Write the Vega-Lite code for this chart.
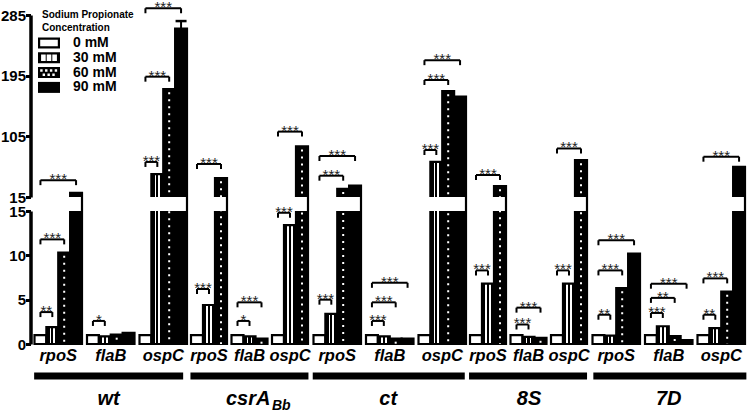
{
"$schema":"https://vega.github.io/schema/vega-lite/v6.json",
"padding":{"left":0,"top":0,"right":0,"bottom":0},
"config":{"font":"Liberation Sans","view":{"stroke":null},"text":{"font":"Liberation Sans"}},
"data":{"values":[
{"kind":"bar","strain":"wt","gene":"rpoS","conc":"0 mM","v":1},
{"kind":"bar","strain":"wt","gene":"rpoS","conc":"30 mM","v":1.9},
{"kind":"bar","strain":"wt","gene":"rpoS","conc":"60 mM","v":10.3},
{"kind":"bar","strain":"wt","gene":"rpoS","conc":"90 mM","v":21},
{"kind":"bar","strain":"wt","gene":"flaB","conc":"0 mM","v":1},
{"kind":"bar","strain":"wt","gene":"flaB","conc":"30 mM","v":0.85},
{"kind":"bar","strain":"wt","gene":"flaB","conc":"60 mM","v":1.05},
{"kind":"bar","strain":"wt","gene":"flaB","conc":"90 mM","v":1.25},
{"kind":"bar","strain":"wt","gene":"ospC","conc":"0 mM","v":1},
{"kind":"bar","strain":"wt","gene":"ospC","conc":"30 mM","v":49},
{"kind":"bar","strain":"wt","gene":"ospC","conc":"60 mM","v":175},
{"kind":"bar","strain":"wt","gene":"ospC","conc":"90 mM","v":265,"hi":276},
{"kind":"bar","strain":"csrA","gene":"rpoS","conc":"0 mM","v":1},
{"kind":"bar","strain":"csrA","gene":"rpoS","conc":"30 mM","v":4.4},
{"kind":"bar","strain":"csrA","gene":"rpoS","conc":"60 mM","v":43},
{"kind":"bar","strain":"csrA","gene":"flaB","conc":"0 mM","v":1},
{"kind":"bar","strain":"csrA","gene":"flaB","conc":"30 mM","v":0.85},
{"kind":"bar","strain":"csrA","gene":"flaB","conc":"60 mM","v":0.6},
{"kind":"bar","strain":"csrA","gene":"ospC","conc":"0 mM","v":1},
{"kind":"bar","strain":"csrA","gene":"ospC","conc":"30 mM","v":13.4},
{"kind":"bar","strain":"csrA","gene":"ospC","conc":"60 mM","v":90},
{"kind":"bar","strain":"ct","gene":"rpoS","conc":"0 mM","v":1},
{"kind":"bar","strain":"ct","gene":"rpoS","conc":"30 mM","v":3.4},
{"kind":"bar","strain":"ct","gene":"rpoS","conc":"60 mM","v":27},
{"kind":"bar","strain":"ct","gene":"rpoS","conc":"90 mM","v":32},
{"kind":"bar","strain":"ct","gene":"flaB","conc":"0 mM","v":1},
{"kind":"bar","strain":"ct","gene":"flaB","conc":"30 mM","v":0.85},
{"kind":"bar","strain":"ct","gene":"flaB","conc":"60 mM","v":0.6},
{"kind":"bar","strain":"ct","gene":"flaB","conc":"90 mM","v":0.6},
{"kind":"bar","strain":"ct","gene":"ospC","conc":"0 mM","v":1},
{"kind":"bar","strain":"ct","gene":"ospC","conc":"30 mM","v":67},
{"kind":"bar","strain":"ct","gene":"ospC","conc":"60 mM","v":172},
{"kind":"bar","strain":"ct","gene":"ospC","conc":"90 mM","v":164},
{"kind":"bar","strain":"8S","gene":"rpoS","conc":"0 mM","v":1},
{"kind":"bar","strain":"8S","gene":"rpoS","conc":"30 mM","v":6.8},
{"kind":"bar","strain":"8S","gene":"rpoS","conc":"60 mM","v":31},
{"kind":"bar","strain":"8S","gene":"flaB","conc":"0 mM","v":1},
{"kind":"bar","strain":"8S","gene":"flaB","conc":"30 mM","v":0.8},
{"kind":"bar","strain":"8S","gene":"flaB","conc":"60 mM","v":0.7},
{"kind":"bar","strain":"8S","gene":"ospC","conc":"0 mM","v":1},
{"kind":"bar","strain":"8S","gene":"ospC","conc":"30 mM","v":6.8},
{"kind":"bar","strain":"8S","gene":"ospC","conc":"60 mM","v":69.6},
{"kind":"bar","strain":"7D","gene":"rpoS","conc":"0 mM","v":1},
{"kind":"bar","strain":"7D","gene":"rpoS","conc":"30 mM","v":0.95},
{"kind":"bar","strain":"7D","gene":"rpoS","conc":"60 mM","v":6.3},
{"kind":"bar","strain":"7D","gene":"rpoS","conc":"90 mM","v":10.2},
{"kind":"bar","strain":"7D","gene":"flaB","conc":"0 mM","v":1},
{"kind":"bar","strain":"7D","gene":"flaB","conc":"30 mM","v":2.0},
{"kind":"bar","strain":"7D","gene":"flaB","conc":"60 mM","v":0.9},
{"kind":"bar","strain":"7D","gene":"flaB","conc":"90 mM","v":0.45},
{"kind":"bar","strain":"7D","gene":"ospC","conc":"0 mM","v":1},
{"kind":"bar","strain":"7D","gene":"ospC","conc":"30 mM","v":1.8},
{"kind":"bar","strain":"7D","gene":"ospC","conc":"60 mM","v":5.9},
{"kind":"bar","strain":"7D","gene":"ospC","conc":"90 mM","v":59.7},
{"kind":"sig","strain":"wt","gene":"rpoS","from":"0 mM","to":"30 mM","h":3.6,"label":"**"},
{"kind":"sig","strain":"wt","gene":"rpoS","from":"0 mM","to":"60 mM","h":11.8,"label":"***"},
{"kind":"sig","strain":"wt","gene":"rpoS","from":"0 mM","to":"90 mM","h":40,"label":"***"},
{"kind":"sig","strain":"wt","gene":"flaB","from":"0 mM","to":"30 mM","h":2.6,"label":"*"},
{"kind":"sig","strain":"wt","gene":"ospC","from":"0 mM","to":"30 mM","h":67,"label":"***"},
{"kind":"sig","strain":"wt","gene":"ospC","from":"0 mM","to":"60 mM","h":193.5,"label":"***"},
{"kind":"sig","strain":"wt","gene":"ospC","from":"0 mM","to":"90 mM","h":295,"label":"***"},
{"kind":"sig","strain":"csrA","gene":"rpoS","from":"0 mM","to":"30 mM","h":6.2,"label":"***"},
{"kind":"sig","strain":"csrA","gene":"rpoS","from":"0 mM","to":"60 mM","h":64,"label":"***"},
{"kind":"sig","strain":"csrA","gene":"flaB","from":"0 mM","to":"30 mM","h":2.6,"label":"*"},
{"kind":"sig","strain":"csrA","gene":"flaB","from":"0 mM","to":"60 mM","h":4.7,"label":"***"},
{"kind":"sig","strain":"csrA","gene":"ospC","from":"0 mM","to":"30 mM","h":14.8,"label":"***"},
{"kind":"sig","strain":"csrA","gene":"ospC","from":"0 mM","to":"60 mM","h":112,"label":"***"},
{"kind":"sig","strain":"ct","gene":"rpoS","from":"0 mM","to":"30 mM","h":5.0,"label":"***"},
{"kind":"sig","strain":"ct","gene":"rpoS","from":"0 mM","to":"60 mM","h":46.6,"label":"***"},
{"kind":"sig","strain":"ct","gene":"rpoS","from":"0 mM","to":"90 mM","h":75.8,"label":"***"},
{"kind":"sig","strain":"ct","gene":"flaB","from":"0 mM","to":"30 mM","h":2.6,"label":"***"},
{"kind":"sig","strain":"ct","gene":"flaB","from":"0 mM","to":"60 mM","h":4.7,"label":"***"},
{"kind":"sig","strain":"ct","gene":"flaB","from":"0 mM","to":"90 mM","h":6.9,"label":"***"},
{"kind":"sig","strain":"ct","gene":"ospC","from":"0 mM","to":"30 mM","h":84.7,"label":"***"},
{"kind":"sig","strain":"ct","gene":"ospC","from":"0 mM","to":"60 mM","h":188.6,"label":"***"},
{"kind":"sig","strain":"ct","gene":"ospC","from":"0 mM","to":"90 mM","h":218,"label":"***"},
{"kind":"sig","strain":"8S","gene":"rpoS","from":"0 mM","to":"30 mM","h":8.3,"label":"***"},
{"kind":"sig","strain":"8S","gene":"rpoS","from":"0 mM","to":"60 mM","h":47.6,"label":"***"},
{"kind":"sig","strain":"8S","gene":"flaB","from":"0 mM","to":"30 mM","h":2.2,"label":"***"},
{"kind":"sig","strain":"8S","gene":"flaB","from":"0 mM","to":"60 mM","h":4.1,"label":"***"},
{"kind":"sig","strain":"8S","gene":"ospC","from":"0 mM","to":"30 mM","h":8.3,"label":"***"},
{"kind":"sig","strain":"8S","gene":"ospC","from":"0 mM","to":"60 mM","h":87,"label":"***"},
{"kind":"sig","strain":"7D","gene":"rpoS","from":"0 mM","to":"30 mM","h":3.3,"label":"**"},
{"kind":"sig","strain":"7D","gene":"rpoS","from":"0 mM","to":"60 mM","h":8.3,"label":"***"},
{"kind":"sig","strain":"7D","gene":"rpoS","from":"0 mM","to":"90 mM","h":11.7,"label":"***"},
{"kind":"sig","strain":"7D","gene":"flaB","from":"0 mM","to":"30 mM","h":3.5,"label":"***"},
{"kind":"sig","strain":"7D","gene":"flaB","from":"0 mM","to":"60 mM","h":5.2,"label":"**"},
{"kind":"sig","strain":"7D","gene":"flaB","from":"0 mM","to":"90 mM","h":6.8,"label":"***"},
{"kind":"sig","strain":"7D","gene":"ospC","from":"0 mM","to":"30 mM","h":3.3,"label":"**"},
{"kind":"sig","strain":"7D","gene":"ospC","from":"0 mM","to":"60 mM","h":7.4,"label":"***"},
{"kind":"sig","strain":"7D","gene":"ospC","from":"0 mM","to":"90 mM","h":74.8,"label":"***"}
]},
"spacing":0.5,
"hconcat":[
{
"width":1,"height":329,
"transform":[{"filter":"datum.kind==='bar' && datum.strain==='wt' && datum.gene==='rpoS' && datum.conc==='0 mM'"}],
"layer":[
{"mark":{"type":"rule","opacity":0},"encoding":{"y":{"datum":0,"type":"quantitative","scale":{"domain":[0,15,15.001,285],"range":[329,196,182,0],"nice":false,"zero":false},
 "axis":{"values":[0,5,10,15,15.001,105,195,285],"labelExpr":"format(round(datum.value),'d')","title":null,"grid":false,"offset":-1.5,"domainColor":"black","domainWidth":3.5,"domainDash":[133,14,182,60],"tickColor":"black","tickWidth":3,"tickSize":5,"labelFontSize":15,"labelFontWeight":"bold","labelColor":"black","labelPadding":0,"labelOverlap":false,"labelFlush":false,"labelBound":false}}}},
{"transform":[{"filter":"datum.kind==='none'"}],"mark":{"type":"point","filled":true,"color":"black","opacity":0},
 "encoding":{"shape":{"field":"conc","type":"nominal","scale":{"domain":["0 mM","30 mM","60 mM","90 mM"],"range":[
  "M-2,-1H2V1H-2Z M-1.6,-0.6V0.6H1.6V-0.6Z",
  "M-2,-1H2V1H-2Z M-1.44,-0.6V0.6H-0.6V-0.6Z M-0.42,-0.6V0.6H0.42V-0.6Z M0.6,-0.6V0.6H1.44V-0.6Z",
  "M-2,-1H2V1H-2Z M-1.6,-0.6V-0.16H-1.16V-0.6Z M-0.72,-0.6V-0.16H-0.28V-0.6Z M0.16,-0.6V-0.16H0.6V-0.6Z M1.04,-0.6V-0.16H1.48V-0.6Z M-1.16,0.16V0.6H-0.72V0.16Z M-0.28,0.16V0.6H0.16V0.16Z M0.6,0.16V0.6H1.04V0.16Z",
  "M-2,-1H2V1H-2Z"]},
  "legend":{"title":["Sodium Propionate","Concentration"],"orient":"none","legendX":13,"legendY":-5,"padding":0,"symbolSize":121,"symbolFillColor":"black","symbolStrokeWidth":0,"symbolOpacity":1,"labelFontSize":14,"labelFontWeight":"bold","labelColor":"black","labelOffset":17,"titleFontSize":10,"titleFontWeight":"bold","titleColor":"black","titleLineHeight":13,"titlePadding":3,"rowPadding":0.8}}}}
]
},
{
"transform":[{"filter":"datum.strain==='wt'"}],
"facet":{"column":{"field":"gene","type":"nominal","sort":["rpoS","flaB","ospC"],"title":null,"header":{"labels":false}}},
"spacing":4.5,"bounds":"flush",
"spec":{"width":47.5,"height":329,"layer":[
{"transform":[{"filter":"datum.kind==='bar'"}],"mark":{"type":"bar","stroke":"black","strokeWidth":2.2},
 "encoding":{"x":{"field":"conc","type":"nominal","scale":{"domain":["0 mM","30 mM","60 mM","90 mM"],"paddingInner":0,"paddingOuter":0},"axis":null},
 "y":{"field":"v","type":"quantitative","scale":{"domain":[0,15,15.001,285],"range":[329,196,182,0],"nice":false,"zero":false},"axis":null},
 "y2":{"datum":0},
 "fill":{"condition":[{"test":"datum.conc==='0 mM'","value":"white"},{"test":"datum.conc==='30 mM'","value":{"gradient":"linear","x1":0,"y1":0,"x2":1,"y2":0,"stops":[{"offset":0,"color":"black"},{"offset":0.27,"color":"black"},{"offset":0.27,"color":"white"},{"offset":0.41,"color":"white"},{"offset":0.41,"color":"black"},{"offset":0.59,"color":"black"},{"offset":0.59,"color":"white"},{"offset":0.73,"color":"white"},{"offset":0.73,"color":"black"},{"offset":1,"color":"black"}]}}],"value":"black"}}},
{"transform":[{"filter":"datum.kind==='bar' && datum.hi > 0"}],"mark":{"type":"rule","color":"black","strokeWidth":2},"encoding":{"x":{"field":"conc","type":"nominal","axis":null},"y":{"field":"v","type":"quantitative","axis":null},"y2":{"field":"hi"}}},
{"transform":[{"filter":"datum.kind==='bar' && datum.hi > 0"}],"mark":{"type":"tick","orient":"horizontal","color":"black","size":11,"thickness":2.5,"opacity":1},"encoding":{"x":{"field":"conc","type":"nominal","axis":null},"y":{"field":"hi","type":"quantitative","axis":null}}},
{"transform":[{"filter":"datum.kind==='bar' && datum.conc==='60 mM'"}],"mark":{"type":"rule","color":"white","strokeWidth":2,"strokeDash":[2,5],"strokeDashOffset":-3},"encoding":{"x":{"field":"conc","type":"nominal","axis":null},"y":{"field":"v","type":"quantitative","axis":null},"y2":{"datum":0}}},
{"transform":[{"filter":"datum.kind==='bar' && datum.conc==='0 mM'"}],"mark":{"type":"rect","fill":"white","xOffset":-1.1,"x2Offset":1.1},"encoding":{"y":{"datum":15,"type":"quantitative","axis":null},"y2":{"datum":15.001}}},
{"transform":[{"filter":"datum.kind==='sig'"}],"mark":{"type":"rule","color":"black","strokeWidth":2},"encoding":{"x":{"field":"from","type":"nominal","axis":null},"x2":{"field":"to"},"y":{"field":"h","type":"quantitative","axis":null}}},
{"transform":[{"filter":"datum.kind==='sig'"},{"fold":["from","to"],"as":["end","c"]}],"mark":{"type":"tick","orient":"vertical","color":"black","size":5,"thickness":2,"yOffset":2.5,"opacity":1},"encoding":{"x":{"field":"c","type":"nominal","axis":null},"y":{"field":"h","type":"quantitative","axis":null}}},
{"transform":[{"filter":"datum.kind==='sig' && datum.to==='30 mM'"}],"mark":{"type":"text","fontSize":15,"fill":"#222","dy":4,"baseline":"alphabetic"},"encoding":{"x":{"datum":"30 mM","type":"nominal","bandPosition":0,"axis":null},"y":{"field":"h","type":"quantitative","axis":null},"text":{"field":"label"}}},
{"transform":[{"filter":"datum.kind==='sig' && datum.to==='60 mM'"}],"mark":{"type":"text","fontSize":15,"fill":"#222","dy":4,"baseline":"alphabetic"},"encoding":{"x":{"datum":"30 mM","type":"nominal","bandPosition":0.5,"axis":null},"y":{"field":"h","type":"quantitative","axis":null},"text":{"field":"label"}}},
{"transform":[{"filter":"datum.kind==='sig' && datum.to==='90 mM'"}],"mark":{"type":"text","fontSize":15,"fill":"#222","dy":4,"baseline":"alphabetic"},"encoding":{"x":{"datum":"30 mM","type":"nominal","bandPosition":1,"axis":null},"y":{"field":"h","type":"quantitative","axis":null},"text":{"field":"label"}}},
{"transform":[{"filter":"datum.kind==='bar' && datum.conc==='0 mM'"}],"mark":{"type":"text","fontSize":16.5,"fontWeight":"bold","fontStyle":"italic","fill":"black","dy":17,"baseline":"alphabetic"},"encoding":{"x":{"datum":"30 mM","type":"nominal","bandPosition":1,"axis":null},"y":{"datum":0,"type":"quantitative","axis":null},"text":{"field":"gene"}}},
{"transform":[{"filter":"datum.kind==='bar' && datum.conc==='0 mM' && datum.gene==='flaB'"}],"mark":{"type":"rect","color":"black","yOffset":28.5,"y2Offset":35.5,"xOffset":-58.8,"x2Offset":54.6},"encoding":{"x":{"datum":"0 mM","type":"nominal","bandPosition":0.5,"axis":null},"x2":{"datum":"90 mM","bandPosition":0.5},"y":{"datum":0,"type":"quantitative","axis":null},"y2":{"datum":0}}},
{"transform":[{"filter":"datum.kind==='bar' && datum.conc==='0 mM' && datum.gene==='flaB'"}],"mark":{"type":"text","fontSize":20,"fontWeight":"bold","fontStyle":"italic","fill":"black","dy":61,"dx":-2.1,"baseline":"alphabetic"},"encoding":{"x":{"datum":"30 mM","type":"nominal","bandPosition":1,"axis":null},"y":{"datum":0,"type":"quantitative","axis":null},"text":{"value":"wt"}}}
]}
},
{
"transform":[{"filter":"datum.strain==='csrA'"}],
"facet":{"column":{"field":"gene","type":"nominal","sort":["rpoS","flaB","ospC"],"title":null,"header":{"labels":false}}},
"spacing":4.5,"bounds":"flush",
"spec":{"width":36,"height":329,"layer":[
{"transform":[{"filter":"datum.kind==='bar'"}],"mark":{"type":"bar","stroke":"black","strokeWidth":2.2},
 "encoding":{"x":{"field":"conc","type":"nominal","scale":{"domain":["0 mM","30 mM","60 mM"],"paddingInner":0,"paddingOuter":0},"axis":null},
 "y":{"field":"v","type":"quantitative","scale":{"domain":[0,15,15.001,285],"range":[329,196,182,0],"nice":false,"zero":false},"axis":null},
 "y2":{"datum":0},
 "fill":{"condition":[{"test":"datum.conc==='0 mM'","value":"white"},{"test":"datum.conc==='30 mM'","value":{"gradient":"linear","x1":0,"y1":0,"x2":1,"y2":0,"stops":[{"offset":0,"color":"black"},{"offset":0.27,"color":"black"},{"offset":0.27,"color":"white"},{"offset":0.41,"color":"white"},{"offset":0.41,"color":"black"},{"offset":0.59,"color":"black"},{"offset":0.59,"color":"white"},{"offset":0.73,"color":"white"},{"offset":0.73,"color":"black"},{"offset":1,"color":"black"}]}}],"value":"black"}}},
{"transform":[{"filter":"datum.kind==='bar' && datum.conc==='60 mM'"}],"mark":{"type":"rule","color":"white","strokeWidth":2,"strokeDash":[2,5],"strokeDashOffset":-3},"encoding":{"x":{"field":"conc","type":"nominal","axis":null},"y":{"field":"v","type":"quantitative","axis":null},"y2":{"datum":0}}},
{"transform":[{"filter":"datum.kind==='bar' && datum.conc==='0 mM'"}],"mark":{"type":"rect","fill":"white","xOffset":-1.1,"x2Offset":1.1},"encoding":{"y":{"datum":15,"type":"quantitative","axis":null},"y2":{"datum":15.001}}},
{"transform":[{"filter":"datum.kind==='sig'"}],"mark":{"type":"rule","color":"black","strokeWidth":2},"encoding":{"x":{"field":"from","type":"nominal","axis":null},"x2":{"field":"to"},"y":{"field":"h","type":"quantitative","axis":null}}},
{"transform":[{"filter":"datum.kind==='sig'"},{"fold":["from","to"],"as":["end","c"]}],"mark":{"type":"tick","orient":"vertical","color":"black","size":5,"thickness":2,"yOffset":2.5,"opacity":1},"encoding":{"x":{"field":"c","type":"nominal","axis":null},"y":{"field":"h","type":"quantitative","axis":null}}},
{"transform":[{"filter":"datum.kind==='sig' && datum.to==='30 mM'"}],"mark":{"type":"text","fontSize":15,"fill":"#222","dy":4,"baseline":"alphabetic"},"encoding":{"x":{"datum":"30 mM","type":"nominal","bandPosition":0,"axis":null},"y":{"field":"h","type":"quantitative","axis":null},"text":{"field":"label"}}},
{"transform":[{"filter":"datum.kind==='sig' && datum.to==='60 mM'"}],"mark":{"type":"text","fontSize":15,"fill":"#222","dy":4,"baseline":"alphabetic"},"encoding":{"x":{"datum":"30 mM","type":"nominal","bandPosition":0.5,"axis":null},"y":{"field":"h","type":"quantitative","axis":null},"text":{"field":"label"}}},
{"transform":[{"filter":"datum.kind==='bar' && datum.conc==='0 mM'"}],"mark":{"type":"text","fontSize":16.5,"fontWeight":"bold","fontStyle":"italic","fill":"black","dy":17,"baseline":"alphabetic"},"encoding":{"x":{"datum":"30 mM","type":"nominal","bandPosition":0.5,"axis":null},"y":{"datum":0,"type":"quantitative","axis":null},"text":{"field":"gene"}}},
{"transform":[{"filter":"datum.kind==='bar' && datum.conc==='0 mM' && datum.gene==='flaB'"}],"mark":{"type":"rect","color":"black","yOffset":28.5,"y2Offset":35.5,"xOffset":-47.05,"x2Offset":46.95},"encoding":{"x":{"datum":"0 mM","type":"nominal","bandPosition":0.5,"axis":null},"x2":{"datum":"60 mM","bandPosition":0.5},"y":{"datum":0,"type":"quantitative","axis":null},"y2":{"datum":0}}},
{"transform":[{"filter":"datum.kind==='bar' && datum.conc==='0 mM' && datum.gene==='flaB'"}],"mark":{"type":"text","fontSize":20,"fontWeight":"bold","fontStyle":"italic","fill":"black","dy":61,"dx":20.9,"align":"right","baseline":"alphabetic"},"encoding":{"x":{"datum":"30 mM","type":"nominal","bandPosition":0.5,"axis":null},"y":{"datum":0,"type":"quantitative","axis":null},"text":{"value":"csrA"}}},
{"transform":[{"filter":"datum.kind==='bar' && datum.conc==='0 mM' && datum.gene==='flaB'"}],"mark":{"type":"text","fontSize":14,"fontWeight":"bold","fontStyle":"italic","fill":"black","dy":66,"dx":22.4,"align":"left","baseline":"alphabetic"},"encoding":{"x":{"datum":"30 mM","type":"nominal","bandPosition":0.5,"axis":null},"y":{"datum":0,"type":"quantitative","axis":null},"text":{"value":"Bb"}}}
]}
},
{
"transform":[{"filter":"datum.strain==='ct'"}],
"facet":{"column":{"field":"gene","type":"nominal","sort":["rpoS","flaB","ospC"],"title":null,"header":{"labels":false}}},
"spacing":4.5,"bounds":"flush",
"spec":{"width":47.5,"height":329,"layer":[
{"transform":[{"filter":"datum.kind==='bar'"}],"mark":{"type":"bar","stroke":"black","strokeWidth":2.2},
 "encoding":{"x":{"field":"conc","type":"nominal","scale":{"domain":["0 mM","30 mM","60 mM","90 mM"],"paddingInner":0,"paddingOuter":0},"axis":null},
 "y":{"field":"v","type":"quantitative","scale":{"domain":[0,15,15.001,285],"range":[329,196,182,0],"nice":false,"zero":false},"axis":null},
 "y2":{"datum":0},
 "fill":{"condition":[{"test":"datum.conc==='0 mM'","value":"white"},{"test":"datum.conc==='30 mM'","value":{"gradient":"linear","x1":0,"y1":0,"x2":1,"y2":0,"stops":[{"offset":0,"color":"black"},{"offset":0.27,"color":"black"},{"offset":0.27,"color":"white"},{"offset":0.41,"color":"white"},{"offset":0.41,"color":"black"},{"offset":0.59,"color":"black"},{"offset":0.59,"color":"white"},{"offset":0.73,"color":"white"},{"offset":0.73,"color":"black"},{"offset":1,"color":"black"}]}}],"value":"black"}}},
{"transform":[{"filter":"datum.kind==='bar' && datum.conc==='60 mM'"}],"mark":{"type":"rule","color":"white","strokeWidth":2,"strokeDash":[2,5],"strokeDashOffset":-3},"encoding":{"x":{"field":"conc","type":"nominal","axis":null},"y":{"field":"v","type":"quantitative","axis":null},"y2":{"datum":0}}},
{"transform":[{"filter":"datum.kind==='bar' && datum.conc==='0 mM'"}],"mark":{"type":"rect","fill":"white","xOffset":-1.1,"x2Offset":1.1},"encoding":{"y":{"datum":15,"type":"quantitative","axis":null},"y2":{"datum":15.001}}},
{"transform":[{"filter":"datum.kind==='sig'"}],"mark":{"type":"rule","color":"black","strokeWidth":2},"encoding":{"x":{"field":"from","type":"nominal","axis":null},"x2":{"field":"to"},"y":{"field":"h","type":"quantitative","axis":null}}},
{"transform":[{"filter":"datum.kind==='sig'"},{"fold":["from","to"],"as":["end","c"]}],"mark":{"type":"tick","orient":"vertical","color":"black","size":5,"thickness":2,"yOffset":2.5,"opacity":1},"encoding":{"x":{"field":"c","type":"nominal","axis":null},"y":{"field":"h","type":"quantitative","axis":null}}},
{"transform":[{"filter":"datum.kind==='sig' && datum.to==='30 mM'"}],"mark":{"type":"text","fontSize":15,"fill":"#222","dy":4,"baseline":"alphabetic"},"encoding":{"x":{"datum":"30 mM","type":"nominal","bandPosition":0,"axis":null},"y":{"field":"h","type":"quantitative","axis":null},"text":{"field":"label"}}},
{"transform":[{"filter":"datum.kind==='sig' && datum.to==='60 mM'"}],"mark":{"type":"text","fontSize":15,"fill":"#222","dy":4,"baseline":"alphabetic"},"encoding":{"x":{"datum":"30 mM","type":"nominal","bandPosition":0.5,"axis":null},"y":{"field":"h","type":"quantitative","axis":null},"text":{"field":"label"}}},
{"transform":[{"filter":"datum.kind==='sig' && datum.to==='90 mM'"}],"mark":{"type":"text","fontSize":15,"fill":"#222","dy":4,"baseline":"alphabetic"},"encoding":{"x":{"datum":"30 mM","type":"nominal","bandPosition":1,"axis":null},"y":{"field":"h","type":"quantitative","axis":null},"text":{"field":"label"}}},
{"transform":[{"filter":"datum.kind==='bar' && datum.conc==='0 mM'"}],"mark":{"type":"text","fontSize":16.5,"fontWeight":"bold","fontStyle":"italic","fill":"black","dy":17,"baseline":"alphabetic"},"encoding":{"x":{"datum":"30 mM","type":"nominal","bandPosition":1,"axis":null},"y":{"datum":0,"type":"quantitative","axis":null},"text":{"field":"gene"}}},
{"transform":[{"filter":"datum.kind==='bar' && datum.conc==='0 mM' && datum.gene==='flaB'"}],"mark":{"type":"rect","color":"black","yOffset":28.5,"y2Offset":35.5,"xOffset":-59.2,"x2Offset":57.2},"encoding":{"x":{"datum":"0 mM","type":"nominal","bandPosition":0.5,"axis":null},"x2":{"datum":"90 mM","bandPosition":0.5},"y":{"datum":0,"type":"quantitative","axis":null},"y2":{"datum":0}}},
{"transform":[{"filter":"datum.kind==='bar' && datum.conc==='0 mM' && datum.gene==='flaB'"}],"mark":{"type":"text","fontSize":20,"fontWeight":"bold","fontStyle":"italic","fill":"black","dy":61,"dx":-1.5,"baseline":"alphabetic"},"encoding":{"x":{"datum":"30 mM","type":"nominal","bandPosition":1,"axis":null},"y":{"datum":0,"type":"quantitative","axis":null},"text":{"value":"ct"}}}
]}
},
{
"transform":[{"filter":"datum.strain==='8S'"}],
"facet":{"column":{"field":"gene","type":"nominal","sort":["rpoS","flaB","ospC"],"title":null,"header":{"labels":false}}},
"spacing":4.5,"bounds":"flush",
"spec":{"width":36,"height":329,"layer":[
{"transform":[{"filter":"datum.kind==='bar'"}],"mark":{"type":"bar","stroke":"black","strokeWidth":2.2},
 "encoding":{"x":{"field":"conc","type":"nominal","scale":{"domain":["0 mM","30 mM","60 mM"],"paddingInner":0,"paddingOuter":0},"axis":null},
 "y":{"field":"v","type":"quantitative","scale":{"domain":[0,15,15.001,285],"range":[329,196,182,0],"nice":false,"zero":false},"axis":null},
 "y2":{"datum":0},
 "fill":{"condition":[{"test":"datum.conc==='0 mM'","value":"white"},{"test":"datum.conc==='30 mM'","value":{"gradient":"linear","x1":0,"y1":0,"x2":1,"y2":0,"stops":[{"offset":0,"color":"black"},{"offset":0.27,"color":"black"},{"offset":0.27,"color":"white"},{"offset":0.41,"color":"white"},{"offset":0.41,"color":"black"},{"offset":0.59,"color":"black"},{"offset":0.59,"color":"white"},{"offset":0.73,"color":"white"},{"offset":0.73,"color":"black"},{"offset":1,"color":"black"}]}}],"value":"black"}}},
{"transform":[{"filter":"datum.kind==='bar' && datum.conc==='60 mM'"}],"mark":{"type":"rule","color":"white","strokeWidth":2,"strokeDash":[2,5],"strokeDashOffset":-3},"encoding":{"x":{"field":"conc","type":"nominal","axis":null},"y":{"field":"v","type":"quantitative","axis":null},"y2":{"datum":0}}},
{"transform":[{"filter":"datum.kind==='bar' && datum.conc==='0 mM'"}],"mark":{"type":"rect","fill":"white","xOffset":-1.1,"x2Offset":1.1},"encoding":{"y":{"datum":15,"type":"quantitative","axis":null},"y2":{"datum":15.001}}},
{"transform":[{"filter":"datum.kind==='sig'"}],"mark":{"type":"rule","color":"black","strokeWidth":2},"encoding":{"x":{"field":"from","type":"nominal","axis":null},"x2":{"field":"to"},"y":{"field":"h","type":"quantitative","axis":null}}},
{"transform":[{"filter":"datum.kind==='sig'"},{"fold":["from","to"],"as":["end","c"]}],"mark":{"type":"tick","orient":"vertical","color":"black","size":5,"thickness":2,"yOffset":2.5,"opacity":1},"encoding":{"x":{"field":"c","type":"nominal","axis":null},"y":{"field":"h","type":"quantitative","axis":null}}},
{"transform":[{"filter":"datum.kind==='sig' && datum.to==='30 mM'"}],"mark":{"type":"text","fontSize":15,"fill":"#222","dy":4,"baseline":"alphabetic"},"encoding":{"x":{"datum":"30 mM","type":"nominal","bandPosition":0,"axis":null},"y":{"field":"h","type":"quantitative","axis":null},"text":{"field":"label"}}},
{"transform":[{"filter":"datum.kind==='sig' && datum.to==='60 mM'"}],"mark":{"type":"text","fontSize":15,"fill":"#222","dy":4,"baseline":"alphabetic"},"encoding":{"x":{"datum":"30 mM","type":"nominal","bandPosition":0.5,"axis":null},"y":{"field":"h","type":"quantitative","axis":null},"text":{"field":"label"}}},
{"transform":[{"filter":"datum.kind==='bar' && datum.conc==='0 mM'"}],"mark":{"type":"text","fontSize":16.5,"fontWeight":"bold","fontStyle":"italic","fill":"black","dy":17,"baseline":"alphabetic"},"encoding":{"x":{"datum":"30 mM","type":"nominal","bandPosition":0.5,"axis":null},"y":{"datum":0,"type":"quantitative","axis":null},"text":{"field":"gene"}}},
{"transform":[{"filter":"datum.kind==='bar' && datum.conc==='0 mM' && datum.gene==='flaB'"}],"mark":{"type":"rect","color":"black","yOffset":28.5,"y2Offset":35.5,"xOffset":-47.45,"x2Offset":46.55},"encoding":{"x":{"datum":"0 mM","type":"nominal","bandPosition":0.5,"axis":null},"x2":{"datum":"60 mM","bandPosition":0.5},"y":{"datum":0,"type":"quantitative","axis":null},"y2":{"datum":0}}},
{"transform":[{"filter":"datum.kind==='bar' && datum.conc==='0 mM' && datum.gene==='flaB'"}],"mark":{"type":"text","fontSize":20,"fontWeight":"bold","fontStyle":"italic","fill":"black","dy":61,"dx":0.5,"baseline":"alphabetic"},"encoding":{"x":{"datum":"30 mM","type":"nominal","bandPosition":0.5,"axis":null},"y":{"datum":0,"type":"quantitative","axis":null},"text":{"value":"8S"}}}
]}
},
{
"transform":[{"filter":"datum.strain==='7D'"}],
"facet":{"column":{"field":"gene","type":"nominal","sort":["rpoS","flaB","ospC"],"title":null,"header":{"labels":false}}},
"spacing":4.5,"bounds":"flush",
"spec":{"width":47.5,"height":329,"layer":[
{"transform":[{"filter":"datum.kind==='bar'"}],"mark":{"type":"bar","stroke":"black","strokeWidth":2.2},
 "encoding":{"x":{"field":"conc","type":"nominal","scale":{"domain":["0 mM","30 mM","60 mM","90 mM"],"paddingInner":0,"paddingOuter":0},"axis":null},
 "y":{"field":"v","type":"quantitative","scale":{"domain":[0,15,15.001,285],"range":[329,196,182,0],"nice":false,"zero":false},"axis":null},
 "y2":{"datum":0},
 "fill":{"condition":[{"test":"datum.conc==='0 mM'","value":"white"},{"test":"datum.conc==='30 mM'","value":{"gradient":"linear","x1":0,"y1":0,"x2":1,"y2":0,"stops":[{"offset":0,"color":"black"},{"offset":0.27,"color":"black"},{"offset":0.27,"color":"white"},{"offset":0.41,"color":"white"},{"offset":0.41,"color":"black"},{"offset":0.59,"color":"black"},{"offset":0.59,"color":"white"},{"offset":0.73,"color":"white"},{"offset":0.73,"color":"black"},{"offset":1,"color":"black"}]}}],"value":"black"}}},
{"transform":[{"filter":"datum.kind==='bar' && datum.conc==='60 mM'"}],"mark":{"type":"rule","color":"white","strokeWidth":2,"strokeDash":[2,5],"strokeDashOffset":-3},"encoding":{"x":{"field":"conc","type":"nominal","axis":null},"y":{"field":"v","type":"quantitative","axis":null},"y2":{"datum":0}}},
{"transform":[{"filter":"datum.kind==='bar' && datum.conc==='0 mM'"}],"mark":{"type":"rect","fill":"white","xOffset":-1.1,"x2Offset":1.1},"encoding":{"y":{"datum":15,"type":"quantitative","axis":null},"y2":{"datum":15.001}}},
{"transform":[{"filter":"datum.kind==='sig'"}],"mark":{"type":"rule","color":"black","strokeWidth":2},"encoding":{"x":{"field":"from","type":"nominal","axis":null},"x2":{"field":"to"},"y":{"field":"h","type":"quantitative","axis":null}}},
{"transform":[{"filter":"datum.kind==='sig'"},{"fold":["from","to"],"as":["end","c"]}],"mark":{"type":"tick","orient":"vertical","color":"black","size":5,"thickness":2,"yOffset":2.5,"opacity":1},"encoding":{"x":{"field":"c","type":"nominal","axis":null},"y":{"field":"h","type":"quantitative","axis":null}}},
{"transform":[{"filter":"datum.kind==='sig' && datum.to==='30 mM'"}],"mark":{"type":"text","fontSize":15,"fill":"#222","dy":4,"baseline":"alphabetic"},"encoding":{"x":{"datum":"30 mM","type":"nominal","bandPosition":0,"axis":null},"y":{"field":"h","type":"quantitative","axis":null},"text":{"field":"label"}}},
{"transform":[{"filter":"datum.kind==='sig' && datum.to==='60 mM'"}],"mark":{"type":"text","fontSize":15,"fill":"#222","dy":4,"baseline":"alphabetic"},"encoding":{"x":{"datum":"30 mM","type":"nominal","bandPosition":0.5,"axis":null},"y":{"field":"h","type":"quantitative","axis":null},"text":{"field":"label"}}},
{"transform":[{"filter":"datum.kind==='sig' && datum.to==='90 mM'"}],"mark":{"type":"text","fontSize":15,"fill":"#222","dy":4,"baseline":"alphabetic"},"encoding":{"x":{"datum":"30 mM","type":"nominal","bandPosition":1,"axis":null},"y":{"field":"h","type":"quantitative","axis":null},"text":{"field":"label"}}},
{"transform":[{"filter":"datum.kind==='bar' && datum.conc==='0 mM'"}],"mark":{"type":"text","fontSize":16.5,"fontWeight":"bold","fontStyle":"italic","fill":"black","dy":17,"baseline":"alphabetic"},"encoding":{"x":{"datum":"30 mM","type":"nominal","bandPosition":1,"axis":null},"y":{"datum":0,"type":"quantitative","axis":null},"text":{"field":"gene"}}},
{"transform":[{"filter":"datum.kind==='bar' && datum.conc==='0 mM' && datum.gene==='flaB'"}],"mark":{"type":"rect","color":"black","yOffset":28.5,"y2Offset":35.5,"xOffset":-57.6,"x2Offset":59.8},"encoding":{"x":{"datum":"0 mM","type":"nominal","bandPosition":0.5,"axis":null},"x2":{"datum":"90 mM","bandPosition":0.5},"y":{"datum":0,"type":"quantitative","axis":null},"y2":{"datum":0}}},
{"transform":[{"filter":"datum.kind==='bar' && datum.conc==='0 mM' && datum.gene==='flaB'"}],"mark":{"type":"text","fontSize":20,"fontWeight":"bold","fontStyle":"italic","fill":"black","dy":61,"dx":0,"baseline":"alphabetic"},"encoding":{"x":{"datum":"30 mM","type":"nominal","bandPosition":1,"axis":null},"y":{"datum":0,"type":"quantitative","axis":null},"text":{"value":"7D"}}}
]}
}
]
}
